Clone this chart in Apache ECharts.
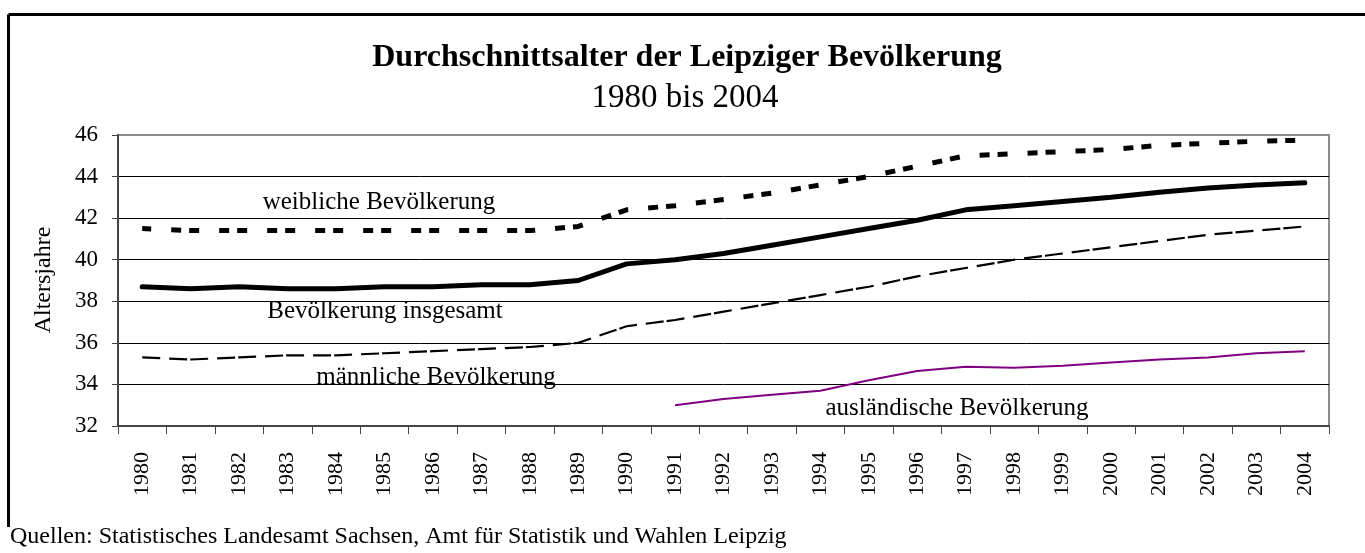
<!DOCTYPE html>
<html lang="de">
<head>
<meta charset="utf-8">
<title>Durchschnittsalter der Leipziger Bevölkerung</title>
<script src="https://cdn.jsdelivr.net/npm/echarts@6/dist/echarts.min.js"></script>
<style>
    html, body { margin: 0; padding: 0; background: #fff; }
    #myChart { width: 1365px; height: 553px; }
</style>
</head>
<body>
<div id="myChart"></div>
<script>
    var years = ['1980', '1981', '1982', '1983', '1984', '1985', '1986', '1987', '1988', '1989',
        '1990', '1991', '1992', '1993', '1994', '1995', '1996', '1997', '1998', '1999',
        '2000', '2001', '2002', '2003', '2004'];
    var weiblich = [41.5, 41.4, 41.4, 41.4, 41.4, 41.4, 41.4, 41.4, 41.4, 41.6,
        42.4, 42.6, 42.9, 43.2, 43.6, 44.0, 44.5, 45.0, 45.1, 45.2,
        45.3, 45.5, 45.6, 45.7, 45.75];
    var insgesamt = [38.7, 38.6, 38.7, 38.6, 38.6, 38.7, 38.7, 38.8, 38.8, 39.0,
        39.8, 40.0, 40.3, 40.7, 41.1, 41.5, 41.9, 42.4, 42.6, 42.8,
        43.0, 43.25, 43.45, 43.6, 43.7];
    var maennlich = [35.3, 35.2, 35.3, 35.4, 35.4, 35.5, 35.6, 35.7, 35.8, 36.0,
        36.8, 37.1, 37.5, 37.9, 38.3, 38.7, 39.2, 39.6, 40.0, 40.3,
        40.6, 40.9, 41.2, 41.4, 41.6];
    var auslaendisch = [null, null, null, null, null, null, null, null, null, null,
        null, 33.0, 33.3, 33.5, 33.7, 34.2, 34.65, 34.85, 34.8, 34.9,
        35.05, 35.2, 35.3, 35.5, 35.6];

    var serif = '"Liberation Serif", "Times New Roman", serif';

    function label(text, x, y, size, align, rot) {
        return {
            type: 'text', x: x, y: y, rotation: rot || 0,
            style: { text: text, font: size + 'px ' + serif, fill: '#000', align: align || 'center', verticalAlign: 'middle' }
        };
    }

    var chart = echarts.init(document.getElementById('myChart'));
    var option = {
        backgroundColor: '#fff',
        animation: false,
        grid: {
            left: 118,
            right: 36,
            top: 135,
            bottom: 127,
            show: true,
            borderColor: '#8c8c8c',
            borderWidth: 2
        },
        xAxis: {
            type: 'category',
            data: years,
            boundaryGap: true,
            axisLine: { lineStyle: { color: '#444', width: 2 } },
            axisTick: { show: true, length: 8, interval: 0, lineStyle: { color: '#444', width: 1 } },
            axisLabel: {
                interval: 0,
                rotate: 90,
                margin: 26,
                fontFamily: serif,
                fontSize: 22,
                color: '#000'
            },
            splitLine: { show: false }
        },
        yAxis: {
            type: 'value',
            min: 32,
            max: 46,
            interval: 2,
            axisLine: { show: true, lineStyle: { color: '#444', width: 2 } },
            axisTick: { show: true, length: 6, lineStyle: { color: '#444' } },
            axisLabel: { fontFamily: serif, fontSize: 23, color: '#000', margin: 20 },
            splitLine: {
                show: true,
                lineStyle: { color: ['#000', '#000', '#000', '#000', '#000', '#000', '#000', '#8c8c8c'], width: 1 }
            }
        },
        series: [{
            name: 'weibliche Bevölkerung',
            type: 'line',
            data: weiblich,
            symbol: 'none',
            lineStyle: { color: '#000', width: 5, type: [10, 8, 10, 20], dashOffset: 19, cap: 'butt' }
        }, {
            name: 'Bevölkerung insgesamt',
            type: 'line',
            data: insgesamt,
            symbol: 'none',
            lineStyle: { color: '#000', width: 5, cap: 'round' }
        }, {
            name: 'männliche Bevölkerung',
            type: 'line',
            data: maennlich,
            symbol: 'none',
            lineStyle: { color: '#000', width: 2.2, type: [18, 3, 18, 9], dashOffset: 21 }
        }, {
            name: 'ausländische Bevölkerung',
            type: 'line',
            data: auslaendisch,
            symbol: 'none',
            connectNulls: false,
            lineStyle: { color: '#800080', width: 2 }
        }],
        graphic: [
            // rahmen
            { type: 'line', shape: { x1: 8.5, y1: 14.5, x2: 1365, y2: 14.5 }, style: { stroke: '#000', lineWidth: 3 } },
            { type: 'line', shape: { x1: 8.5, y1: 14.5, x2: 8.5, y2: 527 }, style: { stroke: '#000', lineWidth: 3 } },
            // titel
            {
                type: 'text', x: 687, y: 58,
                style: { text: 'Durchschnittsalter der Leipziger Bevölkerung', font: 'bold 32px ' + serif, fill: '#000', align: 'center', verticalAlign: 'middle' }
            },
            label('1980 bis 2004', 685, 98, 33),
            label('Altersjahre', 44, 280, 24, 'center', Math.PI / 2),
            // beschriftungen der linien
            label('weibliche Bevölkerung', 379, 202, 25),
            label('Bevölkerung insgesamt', 385, 311, 25),
            label('männliche Bevölkerung', 436, 377, 25),
            label('ausländische Bevölkerung', 957, 408, 25),
            label('Quellen: Statistisches Landesamt Sachsen, Amt für Statistik und Wahlen Leipzig', 10, 537, 24, 'left')
        ]
    };
    chart.setOption(option);
    window.addEventListener('resize', function () {
        chart.resize();
    });
</script>
</body>
</html>
